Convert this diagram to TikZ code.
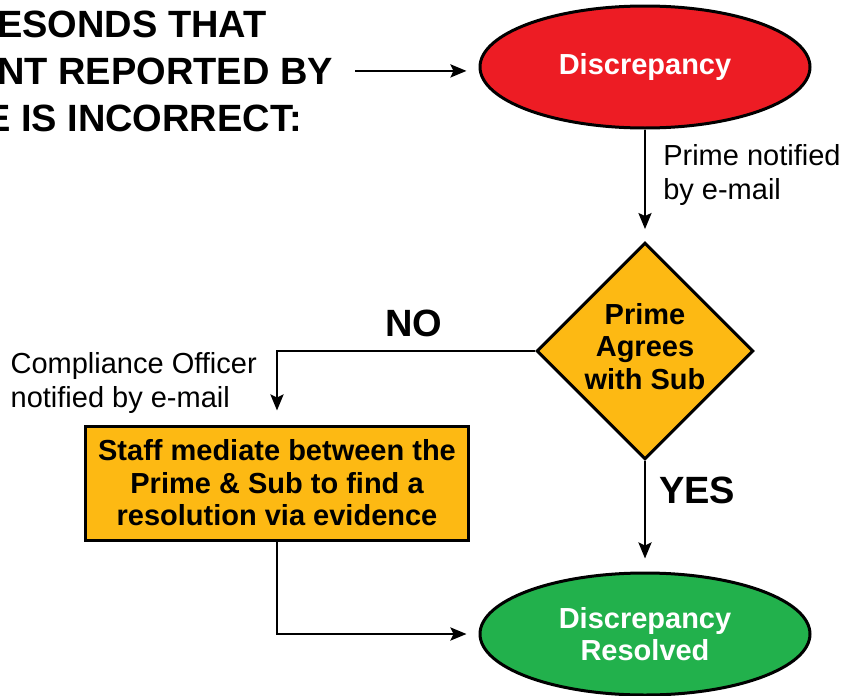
\documentclass[tikz,border=0pt]{standalone}
\usepackage{fontspec}
\setmainfont{Liberation Sans}
\usetikzlibrary{shapes.geometric,arrows.meta}
\definecolor{discred}{HTML}{ED1C24}
\definecolor{agreegold}{HTML}{FDB913}
\definecolor{resolvedgreen}{HTML}{22B14C}

\begin{document}
\begin{tikzpicture}[x=1pt,y=-1pt]
    \tikzstyle{end node}=[draw,ellipse,line width=3pt,minimum width=330pt,minimum height=122pt,inner sep=0pt,align=center,text=white,font={\fontsize{29}{32.5}\selectfont\bfseries}]
    \tikzstyle{decision node}=[draw,diamond,line width=3pt,fill=agreegold,minimum width=214pt,minimum height=212pt,inner sep=0pt,text depth=10pt,align=center,font={\fontsize{29}{32.5}\selectfont\bfseries}]
    \tikzstyle{task node}=[draw,rectangle,line width=3pt,fill=agreegold,minimum width=383pt,minimum height=114pt,inner sep=0pt,align=center,font={\fontsize{29}{32.5}\selectfont\bfseries}]
    \tikzstyle{intro}=[anchor=base west,inner sep=0pt,font={\fontsize{38}{47}\selectfont\bfseries}]
    \tikzstyle{note}=[draw=none,fill=none,inner sep=0pt,align=left,font={\fontsize{29}{34.5}\selectfont}]
    \tikzstyle{answer}=[draw=none,fill=none,inner sep=0pt,font={\fontsize{38}{47}\selectfont\bfseries}]
    \tikzstyle{flow}=[line width=2.6pt,-{Stealth[length=16pt,width=13pt,inset=3pt]}]

    \useasboundingbox (0,0) rectangle (841,696);
    \clip (0,0) rectangle (841,696);

    \node[intro] (intro1) at (-3,37) {ESONDS THAT};
    \node[intro] (intro2) at (-3,84) {NT REPORTED BY};
    \node[intro] (intro3) at (-15,131) {E IS INCORRECT:};

    \node[end node,fill=discred] (D) at (645,67) {Discrepancy};
    \node[decision node] (P) at (645,351) {Prime\\Agrees\\with Sub};
    \node[task node] (S) at (277,483) {Staff mediate between the\\Prime \& Sub to find a\\resolution via evidence};
    \node[end node,fill=resolvedgreen] (R) at (645,634) {Discrepancy\\Resolved};

    \draw[flow,shorten <=22pt,shorten >=12pt] (intro2.east) -- (intro2.east -| D.west);
    \draw[flow,shorten >=12pt] (D) -- (P) node[note,midway,right=17pt,yshift=10.5pt] {Prime notified\\by e-mail};
    \draw[flow,shorten >=14pt] (P.west) -| (S.north) node[answer,pos=0.25,above=13pt,xshift=8pt] {NO} node[note,pos=0.75,left=19pt,yshift=5pt] {Compliance Officer\\notified by e-mail};
    \draw[flow,shorten >=13pt] (P) -- (R) node[answer,midway,right=13pt,yshift=25.5pt] {YES};
    \draw[flow,shorten >=12pt] (S.south) |- (R.west);
\end{tikzpicture}
\end{document}
